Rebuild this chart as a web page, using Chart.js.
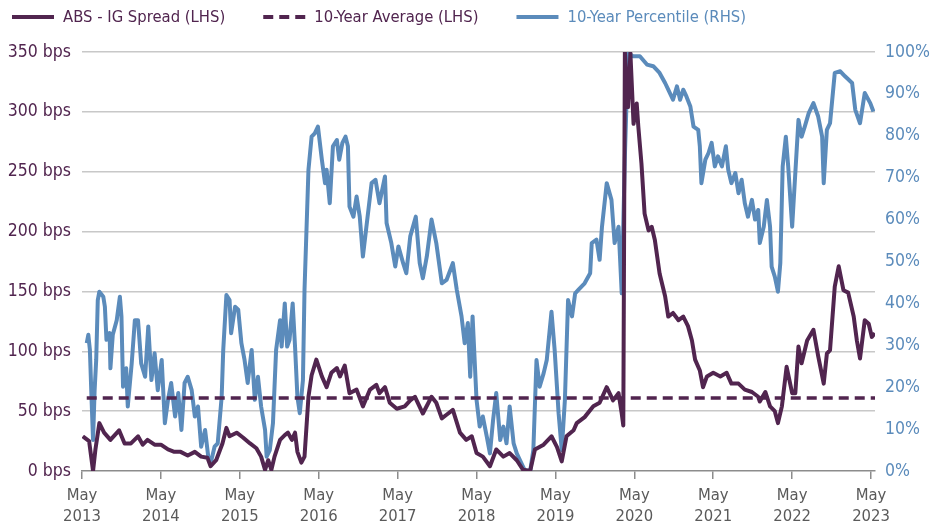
<!DOCTYPE html>
<html lang="en">
<head>
  <meta charset="UTF-8">
  <title>ABS - IG Spread vs 10-Year Percentile</title>
  <script src="https://cdn.jsdelivr.net/npm/chart.js"></script>
  <style>
    html, body { margin: 0; padding: 0; background: #fff; }
  </style>
</head>
<body>
  <canvas id="spreadChart" width="943" height="527"></canvas>

  <script>
    // Spread in bps (left axis), dates as decimal years
    const spreadDates = [
      2013.34, 2013.42, 2013.47, 2013.50, 2013.55, 2013.61, 2013.69, 2013.80, 2013.87, 2013.95,
      2014.04, 2014.10, 2014.16, 2014.25, 2014.33, 2014.42, 2014.50, 2014.58, 2014.67, 2014.76,
      2014.84, 2014.92, 2014.96, 2015.03, 2015.11, 2015.16, 2015.20, 2015.29, 2015.37, 2015.46,
      2015.54, 2015.60, 2015.65, 2015.69, 2015.73, 2015.77, 2015.84, 2015.90, 2015.94, 2015.99,
      2016.03, 2016.06, 2016.11, 2016.15, 2016.20, 2016.24, 2016.30, 2016.37, 2016.43, 2016.49,
      2016.56, 2016.60, 2016.66, 2016.72, 2016.81, 2016.89, 2016.98, 2017.06, 2017.10, 2017.17,
      2017.23, 2017.32, 2017.42, 2017.49, 2017.55, 2017.65, 2017.76, 2017.82, 2017.89, 2017.95,
      2018.03, 2018.12, 2018.20, 2018.27, 2018.33, 2018.41, 2018.50, 2018.58, 2018.67, 2018.75,
      2018.84, 2018.92, 2019.01, 2019.07, 2019.18, 2019.28, 2019.35, 2019.41, 2019.47, 2019.56,
      2019.60, 2019.70, 2019.81, 2019.89, 2019.98, 2020.06, 2020.13, 2020.17, 2020.19, 2020.21,
      2020.25, 2020.28, 2020.32, 2020.36, 2020.38, 2020.42, 2020.46, 2020.51, 2020.55, 2020.59,
      2020.65, 2020.72, 2020.76, 2020.82, 2020.89, 2020.95, 2021.01, 2021.06, 2021.10, 2021.16,
      2021.20, 2021.25, 2021.33, 2021.42, 2021.50, 2021.56, 2021.65, 2021.73, 2021.82, 2021.90,
      2021.92, 2021.99, 2022.05, 2022.11, 2022.15, 2022.20, 2022.26, 2022.33, 2022.37, 2022.41,
      2022.45, 2022.52, 2022.60, 2022.66, 2022.73, 2022.77, 2022.81, 2022.87, 2022.92, 2022.98,
      2023.04, 2023.11, 2023.15, 2023.19, 2023.25, 2023.30, 2023.34, 2023.38
    ];
    const spreadBps = [
      29, 25, 0, 18, 40, 32, 26, 34, 23, 23,
      29, 22, 26, 22, 22, 18, 16, 16, 13, 16,
      12, 11, 4, 9, 23, 36, 29, 32, 28, 23,
      19, 12, 1, 9, 1, 12, 26, 30, 32, 26,
      32, 16, 7, 12, 62, 80, 93, 79, 70, 82,
      86, 79, 88, 65, 68, 54, 68, 72, 65, 70,
      57, 52, 54, 59, 62, 48, 62, 57, 44, 47,
      51, 32, 26, 29, 15, 12, 4, 18, 12, 15,
      9, 1, 0, 18, 22, 29, 20, 8, 29, 34,
      40, 45, 54, 57, 70, 59, 65, 48, 38, 350,
      304, 349, 290, 307, 288, 257, 215, 201, 204, 193,
      165, 146, 129, 132, 126, 129, 121, 109, 93, 84,
      70, 79, 82, 79, 82, 73, 73, 68, 66, 62,
      58, 66, 54, 50, 40, 54, 87, 65, 65, 104,
      90, 109, 118, 96, 73, 98, 101, 154, 171, 151,
      149, 129, 109, 94, 126, 123, 112, 115
    ];

    // 10-year average (bps)
    const avgDates = [2013.39, 2023.38];
    const avgBps = [61, 61];

    // 10-year percentile (right axis, %)
    const pctDates = [
      2013.39, 2013.41, 2013.43, 2013.45, 2013.47, 2013.49, 2013.51, 2013.53, 2013.55, 2013.60,
      2013.62, 2013.64, 2013.68, 2013.69, 2013.72, 2013.77, 2013.81, 2013.83, 2013.85, 2013.89,
      2013.91, 2013.96, 2014.00, 2014.04, 2014.08, 2014.13, 2014.17, 2014.21, 2014.25, 2014.29,
      2014.34, 2014.38, 2014.42, 2014.46, 2014.51, 2014.55, 2014.59, 2014.63, 2014.67, 2014.72,
      2014.76, 2014.80, 2014.84, 2014.89, 2014.93, 2014.97, 2015.01, 2015.05, 2015.10, 2015.12,
      2015.16, 2015.20, 2015.22, 2015.27, 2015.31, 2015.35, 2015.39, 2015.43, 2015.48, 2015.52,
      2015.56, 2015.60, 2015.65, 2015.67, 2015.71, 2015.75, 2015.79, 2015.84, 2015.86, 2015.90,
      2015.93, 2015.96, 2016.00, 2016.03, 2016.06, 2016.09, 2016.13, 2016.15, 2016.20, 2016.24,
      2016.28, 2016.32, 2016.37, 2016.41, 2016.43, 2016.47, 2016.51, 2016.56, 2016.59, 2016.63,
      2016.67, 2016.70, 2016.72, 2016.77, 2016.81, 2016.85, 2016.89, 2016.94, 2017.00, 2017.05,
      2017.10, 2017.17, 2017.19, 2017.25, 2017.30, 2017.34, 2017.40, 2017.44, 2017.49, 2017.56,
      2017.61, 2017.65, 2017.70, 2017.76, 2017.82, 2017.89, 2017.95, 2018.03, 2018.08, 2018.14,
      2018.18, 2018.22, 2018.25, 2018.28, 2018.33, 2018.37, 2018.41, 2018.46, 2018.50, 2018.54,
      2018.58, 2018.63, 2018.67, 2018.71, 2018.75, 2018.80, 2018.84, 2018.88, 2018.94, 2019.01,
      2019.05, 2019.09, 2019.13, 2019.18, 2019.22, 2019.28, 2019.32, 2019.37, 2019.41, 2019.45,
      2019.49, 2019.54, 2019.58, 2019.62, 2019.70, 2019.77, 2019.79, 2019.85, 2019.89, 2019.92,
      2019.98, 2020.04, 2020.08, 2020.13, 2020.17, 2020.21, 2020.25, 2020.31, 2020.40, 2020.49,
      2020.57, 2020.65, 2020.72, 2020.76, 2020.82, 2020.87, 2020.91, 2020.95, 2020.99, 2021.04,
      2021.08, 2021.14, 2021.16, 2021.18, 2021.23, 2021.27, 2021.31, 2021.35, 2021.39, 2021.44,
      2021.49, 2021.52, 2021.56, 2021.61, 2021.65, 2021.69, 2021.73, 2021.77, 2021.82, 2021.86,
      2021.90, 2021.92, 2021.97, 2022.01, 2022.05, 2022.07, 2022.11, 2022.15, 2022.18, 2022.21,
      2022.25, 2022.28, 2022.33, 2022.37, 2022.41, 2022.45, 2022.49, 2022.54, 2022.60, 2022.66,
      2022.71, 2022.73, 2022.77, 2022.81, 2022.87, 2022.94, 2023.00, 2023.09, 2023.13, 2023.19,
      2023.25, 2023.32, 2023.36
    ];
    const pctValues = [
      30.5, 32.5, 28.9, 17.7, 7.4, 19.3, 26.5, 40.8, 42.8, 41.6,
      39.2, 31.3, 32.9, 24.5, 32.5, 36, 41.6, 36.9, 20.1, 24.5,
      15.4, 25.7, 36, 36, 25.7, 22.5, 34.5, 21.7, 28.1, 19.3,
      26.5, 11.4, 17, 21, 13, 18.6, 9.8, 21, 22.5, 19.3,
      13, 15.4, 5.8, 9.8, 3.4, 2.6, 5.8, 6.6, 17.7, 28.9,
      42, 40.8, 32.9, 39.2, 38.5, 30.5, 26.5, 21, 28.9, 17,
      22.5, 15.4, 9.8, 3.4, 5, 11.4, 28.9, 36, 29.7, 40,
      29.7, 31.3, 40, 29.7, 17.7, 13.8, 21.7, 43.2, 71.9, 79.8,
      80.6, 82.2, 74.3, 68.7, 71.9, 63.9, 77.5, 79, 74.3, 78.3,
      79.8, 77.5, 63.1, 60.7, 65.5, 60.7, 51.2, 59.2, 68.7, 69.5,
      63.9, 70.3, 59.2, 54.4, 48.8, 53.6, 49.6, 47.2, 56, 60.7,
      49.6, 46, 51.2, 60, 54.4, 44.8, 45.6, 49.6, 43.2, 36.9,
      30.5, 35.3, 22.5, 36.9, 17, 10.6, 13, 8.2, 4.2, 12.2,
      18.6, 7.4, 10.6, 6.6, 15.4, 6.6, 4.2, 2.6, 0.2, 0,
      5, 26.5, 20.1, 23.3, 26.5, 38, 28.9, 13.8, 5, 17,
      40.8, 36.9, 42.4, 43.2, 44.8, 47.2, 54.4, 55.2, 50.4, 58.3,
      68.7, 64.7, 54.4, 58.3, 42.4, 75, 99.8, 99, 99, 97,
      96.6, 95, 92.6, 91, 88.6, 91.8, 88.6, 91, 89.4, 87,
      82.2, 81.4, 77.5, 68.7, 74.3, 75.9, 78.3, 72.7, 75.1, 72.7,
      77.5, 71.9, 68.7, 71.1, 66.3, 69.5, 63.9, 60.7, 64.7, 60,
      62.3, 54.4, 58.3, 64.7, 58.3, 48.8, 46.4, 42.8, 49.6, 72.7,
      79.8, 72.7, 58.3, 71.1, 83.8, 79.8, 82.2, 85.4, 87.8, 84.6,
      79.8, 68.7, 81.4, 83, 95, 95.4, 94.2, 92.6, 86.2, 83,
      90.2, 87.8, 85.8
    ];

    // x axis ticks: May of each year
    const tickYears = [2013, 2014, 2015, 2016, 2017, 2018, 2019, 2020, 2021, 2022, 2023];

    const PURPLE = '#51254f';
    const BLUE = '#5b8bbb';
    const FONT = '"Liberation Sans Narrow", "DejaVu Sans Condensed", sans-serif';

    const toPoints = (xs, ys) => xs.map((x, i) => ({ x: x, y: ys[i] }));

    // simple legend drawn above the plot, lines + coloured text
    const topLegend = {
      id: 'topLegend',
      afterDraw(chart) {
        const c = chart.ctx;
        let x = 12;
        const y = 17;
        c.save();
        c.font = '16.5px ' + FONT;
        c.textBaseline = 'middle';
        chart.data.datasets.forEach(ds => {
          c.beginPath();
          c.strokeStyle = ds.borderColor;
          c.lineWidth = 4;
          c.setLineDash(ds.borderDash || []);
          c.moveTo(x, y);
          c.lineTo(x + 42, y);
          c.stroke();
          c.setLineDash([]);
          c.fillStyle = ds.borderColor;
          c.fillText(ds.label, x + 51, y + 1);
          x += 51 + c.measureText(ds.label).width + 38;
        });
        c.restore();
      }
    };

    const ctx = document.getElementById('spreadChart').getContext('2d');

    new Chart(ctx, {
      type: 'line',
      data: {
        datasets: [
          {
            label: 'ABS - IG Spread (LHS)',
            data: toPoints(spreadDates, spreadBps),
            yAxisID: 'y',
            borderColor: PURPLE,
            borderWidth: 4,
            pointRadius: 0,
            tension: 0,
            borderJoinStyle: 'round'
          },
          {
            label: '10-Year Average (LHS)',
            data: toPoints(avgDates, avgBps),
            yAxisID: 'y',
            borderColor: PURPLE,
            borderWidth: 3.5,
            borderDash: [10, 6],
            pointRadius: 0
          },
          {
            label: '10-Year Percentile (RHS)',
            data: toPoints(pctDates, pctValues),
            yAxisID: 'y1',
            borderColor: BLUE,
            borderWidth: 4,
            pointRadius: 0,
            tension: 0,
            borderJoinStyle: 'round'
          }
        ]
      },
      options: {
        responsive: false,
        animation: false,
        layout: { padding: { top: 52, left: 0, right: 0, bottom: 0 } },
        plugins: {
          legend: { display: false },
          tooltip: { enabled: false }
        },
        scales: {
          x: {
            type: 'linear',
            min: 2013.33,
            max: 2023.38,
            afterBuildTicks: s => { s.ticks = tickYears.map(yr => ({ value: yr + 0.33 })); },
            afterFit: s => { s.height = 56; },
            ticks: {
              autoSkip: false,
              maxRotation: 0,
              padding: 6,
              color: '#5a5a5a',
              font: { family: FONT, size: 16.5, lineHeight: 1.3 },
              callback: (v, i) => ['May', String(tickYears[i])]
            },
            grid: { drawOnChartArea: false, tickLength: 8, color: '#8c8c8c', lineWidth: 1.5 },
            border: { color: '#8c8c8c', width: 1.5 }
          },
          y: {
            position: 'left',
            min: 0,
            max: 350,
            afterFit: s => { s.width = 82; },
            ticks: {
              stepSize: 50,
              padding: 11,
              color: PURPLE,
              font: { family: FONT, size: 17.5 },
              callback: v => v + ' bps'
            },
            grid: {
              drawTicks: false,
              lineWidth: 1.5,
              color: c => (c.tick.value === 0 ? 'rgba(0,0,0,0)' : '#c8c8c8')
            },
            border: { display: false }
          },
          y1: {
            position: 'right',
            min: 0,
            max: 100,
            afterFit: s => { s.width = 68; },
            ticks: {
              stepSize: 10,
              padding: 2,
              color: BLUE,
              font: { family: FONT, size: 17.5 },
              callback: v => v + '%'
            },
            grid: { display: false },
            border: { display: false }
          }
        }
      },
      plugins: [topLegend]
    });
  </script>
</body>
</html>
